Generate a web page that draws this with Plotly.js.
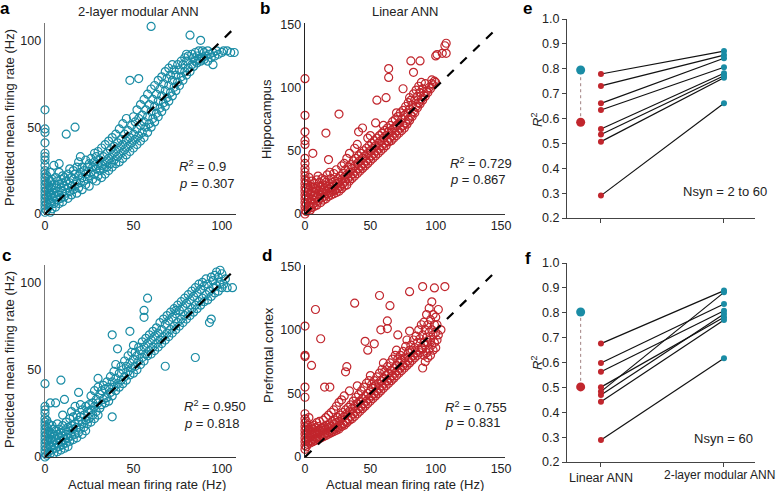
<!DOCTYPE html>
<html>
<head>
<meta charset="utf-8">
<script src="https://cdn.plot.ly/plotly-3.0.1.min.js"></script>
<style>
  html, body { margin: 0; padding: 0; background: #fff; }
  #chart { width: 778px; height: 491px; }
</style>
</head>
<body>
<div id="chart"></div>
<script>
// ---- panel a: 2-layer modular ANN, hippocampus (actual vs predicted) ----
const aPts = [
  [0,1],[0,3],[0,5],[0,7],[0,9],[0,11],[0,13],[0,15],[0,17],[0,19],[0,21],[0,23],[0,25],[0,28],[0,31],[0,33],[0,35],[0,41],[0,47],[0,49],[0,60],
  [1,2],[1,6],[1,10],[1,14],[1,18],[1,22],[2,4],[2,8],[2,12],[2,16],[2,20],[3,1],[3,6],[3,11],[3,15],[3,19],[3,24],
  [4,3],[4,9],[4,14],[4,20],[5,6],[5,12],[5,17],[5,28],[6,4],[6,10],[6,15],[6,21],[7,8],[7,13],[7,19],[8,6],[8,11],[8,17],[8,24],[8,29],[9,9],[9,15],[9,20],[10,7],[10,13],[10,18],[10,22],
  [11,10],[11,16],[11,21],[12,12],[12,19],[12,46],[13,9],[13,15],[13,23],[14,13],[14,18],[14,26],[15,11],[15,16],[15,21],[16,14],[16,20],[16,25],[17,17],[17,23],[17,50],[18,12],[18,19],[18,27],[19,15],[19,22],[19,30],[20,18],[20,24],[20,33],
  [21,14],[21,21],[21,27],[22,19],[22,25],[23,17],[23,23],[23,31],[24,20],[24,27],[25,16],[25,22],[25,29],[26,24],[26,32],[27,20],[27,27],[28,23],[28,30],[28,35],[29,19],[29,26],[29,33],[30,22],[30,28],[30,36],
  [31,25],[31,31],[32,21],[32,28],[32,38],[33,26],[33,33],[34,23],[34,30],[34,40],[35,27],[35,35],[36,25],[36,32],[36,42],[37,29],[37,37],[38,27],[38,34],[38,44],[39,31],[39,39],[40,29],[40,36],[40,46],
  [41,33],[41,41],[42,30],[42,38],[42,49],[43,35],[43,43],[44,32],[44,40],[44,52],[45,37],[45,46],[46,34],[46,42],[46,55],[47,39],[47,48],[48,36],[48,44],[48,77],[49,41],[49,51],[50,38],[50,46],[50,56],
  [51,43],[51,53],[52,40],[52,49],[52,60],[53,45],[53,55],[53,78],[54,42],[54,51],[54,63],[55,47],[55,57],[56,44],[56,53],[56,66],[57,50],[57,60],[58,47],[58,56],[58,69],[59,52],[59,63],[60,50],[60,59],[60,72],[60,108],
  [61,55],[61,66],[62,53],[62,62],[62,74],[63,58],[63,69],[64,56],[64,65],[64,77],[65,61],[65,72],[66,59],[66,68],[66,79],[67,64],[67,75],[68,62],[68,71],[68,82],[69,67],[69,78],[70,65],[70,74],[70,84],
  [71,70],[71,80],[72,68],[72,77],[72,86],[73,73],[73,83],[74,71],[74,80],[75,76],[75,86],[76,74],[76,83],[77,79],[77,88],[78,77],[78,86],[79,82],[79,90],[80,80],[80,88],[80,92],
  [81,84],[81,91],[82,82],[82,103],[83,86],[83,92],[84,85],[84,90],[85,88],[85,93],[86,87],[86,91],[87,89],[87,94],[88,88],[88,100],[89,90],[89,94],[90,89],[90,93],
  [91,91],[92,88],[92,94],[93,92],[94,90],[95,93],[95,86],[96,91],[97,94],[98,92],[100,93],[101,94],[103,94],[105,93],[107,93]
];

// ---- panel b: linear ANN, hippocampus ----
const bPts = [
  [0,0],[0,3],[0,6],[0,9],[0,12],[0,15],[0,18],[0,21],[0,24],[0,27],[0,30],[0,33],[0,36],[0,40],[0,44],[0,55],[0,58],[0,65],[0,78],[0,107],
  [1,2],[1,8],[1,14],[1,20],[1,26],[2,4],[2,11],[2,17],[2,23],[3,6],[3,13],[3,19],[3,29],
  [4,3],[4,9],[4,16],[4,22],[5,5],[5,12],[5,18],[5,26],[6,8],[6,14],[6,21],[6,48],[7,6],[7,11],[7,17],[7,24],[8,9],[8,15],[8,20],[9,7],[9,13],[9,19],[9,27],[10,10],[10,16],[10,22],[10,30],
  [11,12],[11,18],[11,25],[12,9],[12,15],[12,21],[13,13],[13,19],[13,28],[14,11],[14,17],[14,23],[15,14],[15,20],[15,27],[16,12],[16,18],[16,25],[16,64],[17,16],[17,22],[17,31],[18,14],[18,20],[18,43],[19,17],[19,24],[19,33],[20,15],[20,21],[20,28],
  [21,18],[21,25],[22,16],[22,22],[22,32],[23,19],[23,26],[24,17],[24,24],[24,35],[25,20],[25,28],[26,18],[26,25],[26,79],[27,22],[27,30],[28,20],[28,27],[28,38],[29,24],[29,32],[30,22],[30,29],[30,40],
  [31,26],[31,35],[32,23],[32,31],[32,44],[33,28],[33,37],[34,26],[34,33],[34,48],[35,30],[35,39],[36,28],[36,36],[37,32],[37,42],[38,30],[38,38],[38,52],[39,34],[39,44],[40,32],[40,40],[40,55],
  [41,36],[41,46],[41,65],[42,34],[42,42],[43,38],[43,48],[44,36],[44,44],[44,68],[45,40],[45,50],[46,38],[46,46],[47,42],[47,52],[48,40],[48,48],[48,60],[49,44],[49,54],[50,42],[50,50],[50,62],
  [51,46],[51,56],[52,44],[52,52],[53,48],[53,58],[54,46],[54,54],[54,72],[55,50],[55,60],[55,90],[56,48],[56,56],[57,52],[57,62],[58,50],[58,58],[59,54],[59,64],[60,52],[60,60],[60,70],
  [61,56],[61,66],[62,54],[62,62],[62,92],[63,58],[63,68],[64,57],[64,65],[64,108],[64,115],[65,60],[65,70],[66,58],[66,66],[67,62],[67,73],[68,60],[68,68],[69,64],[69,75],[70,62],[70,70],[70,80],
  [71,66],[71,77],[72,64],[72,72],[73,68],[73,80],[74,66],[74,75],[75,70],[75,82],[75,99],[76,68],[76,78],[77,72],[77,85],[78,71],[78,80],[79,75],[79,88],[80,74],[80,83],[80,92],
  [81,78],[81,90],[81,121],[82,77],[82,86],[83,81],[83,95],[83,112],[84,80],[84,90],[85,85],[85,98],[86,84],[86,93],[87,88],[87,101],[88,87],[88,96],[88,121],[89,91],[89,104],[90,90],[90,99],
  [91,94],[92,93],[92,103],[93,97],[94,96],[95,100],[96,99],[97,103],[97,106],[98,102],[99,105],[100,104],[100,125],[101,126],[105,127],[107,133],[108,135],[108,127]
];

// ---- panel c: 2-layer modular ANN, prefrontal cortex ----
const cPts = [
  [0,0],[0,2],[0,4],[0,6],[0,8],[0,10],[0,12],[0,14],[0,16],[0,18],[0,20],[0,22],[0,25],[0,27],[0,29],[0,42],[1,1],[1,5],[1,9],[1,13],[1,17],[1,21],[2,3],[2,7],[2,11],[2,15],[2,19],[3,2],[3,6],[3,10],[3,14],[3,31],
  [4,4],[4,9],[4,13],[4,18],[5,2],[5,7],[5,12],[5,16],[6,5],[6,10],[6,15],[6,31],[7,3],[7,8],[7,13],[7,19],[8,6],[8,11],[8,16],[9,4],[9,9],[9,14],[9,44],[10,7],[10,12],[10,18],[10,24],
  [11,5],[11,10],[11,15],[11,33],[12,8],[12,13],[12,20],[13,6],[13,11],[13,17],[14,9],[14,15],[14,22],[15,12],[15,18],[15,26],[16,10],[16,16],[16,23],[17,13],[17,19],[17,29],[18,11],[18,17],[18,24],[19,14],[19,21],[19,37],[20,16],[20,23],[20,30],
  [21,13],[21,19],[21,27],[22,17],[22,24],[23,15],[23,21],[23,29],[24,19],[24,26],[25,22],[25,30],[26,20],[26,27],[26,35],[27,24],[27,31],[28,22],[28,29],[28,38],[29,26],[29,33],[30,24],[30,31],[30,40],[30,45],
  [31,28],[31,36],[32,30],[32,38],[33,33],[33,41],[34,31],[34,39],[35,34],[35,43],[36,32],[36,40],[37,37],[37,46],[38,23],[38,35],[38,43],[38,70],[39,40],[39,49],[40,38],[40,45],[40,53],
  [41,42],[41,62],[42,40],[42,48],[43,44],[43,52],[44,42],[44,50],[45,46],[45,55],[46,44],[46,52],[47,49],[47,58],[48,47],[48,54],[48,72],[49,51],[49,60],[50,48],[50,56],[50,64],
  [51,52],[51,60],[52,50],[52,58],[53,55],[53,63],[54,53],[54,61],[55,57],[55,66],[56,55],[56,63],[56,80],[56,84],[57,59],[57,68],[58,58],[58,65],[58,91],[59,61],[59,70],[60,59],[60,67],
  [61,63],[61,72],[62,61],[62,69],[63,65],[63,74],[64,63],[64,71],[65,67],[65,77],[66,65],[66,73],[67,69],[67,79],[68,52],[68,67],[68,76],[69,71],[69,81],[70,69],[70,78],
  [71,73],[71,83],[72,71],[72,80],[73,75],[73,85],[74,73],[74,82],[74,84],[75,77],[75,87],[76,75],[76,84],[77,79],[77,89],[78,77],[78,86],[79,81],[79,91],[80,79],[80,88],
  [81,83],[81,93],[82,81],[82,90],[83,85],[83,95],[84,83],[84,92],[85,57],[85,87],[85,97],[86,85],[86,94],[87,89],[87,99],[88,87],[88,96],[89,91],[89,100],[90,89],[90,98],
  [91,93],[91,102],[92,90],[92,99],[93,77],[93,95],[94,79],[94,92],[94,103],[95,97],[95,101],[96,94],[96,104],[97,98],[97,106],[98,95],[98,103],[99,100],[99,107],[100,97],[100,105],[101,99],[102,102],[103,97],[106,97]
];

// ---- panel d: linear ANN, prefrontal cortex ----
const dPts = [
  [0,6],[0,9],[0,12],[0,15],[0,18],[0,21],[0,24],[0,27],[0,30],[0,34],[0,47],[0,55],[0,79],[0,80],[0,103],[1,8],[1,13],[1,18],[1,23],[1,28],[2,10],[2,15],[2,20],[2,25],[3,12],[3,17],[3,22],[3,31],
  [4,11],[4,16],[4,21],[5,13],[5,18],[5,24],[5,72],[6,12],[6,17],[6,22],[7,14],[7,19],[7,25],[8,13],[8,18],[8,23],[8,116],[9,15],[9,20],[9,27],[10,14],[10,19],[10,24],
  [11,16],[11,21],[11,28],[12,15],[12,20],[12,93],[13,17],[13,23],[14,16],[14,21],[14,29],[15,18],[15,24],[15,55],[16,17],[16,22],[16,31],[17,19],[17,25],[18,18],[18,23],[18,33],[19,20],[19,26],[19,55],[20,19],[20,24],[20,35],
  [21,21],[21,28],[22,20],[22,26],[22,37],[23,22],[23,29],[24,21],[24,27],[24,40],[25,23],[25,31],[26,22],[26,28],[26,43],[27,25],[27,33],[28,24],[28,30],[28,45],[29,26],[29,35],[30,25],[30,32],[30,48],
  [31,28],[31,37],[31,67],[32,27],[32,34],[32,71],[33,30],[33,39],[34,29],[34,36],[34,52],[35,32],[35,41],[36,30],[36,38],[37,34],[37,44],[38,32],[38,40],[38,121],[39,36],[39,47],[40,34],[40,42],[40,56],
  [41,38],[41,49],[42,36],[42,44],[43,40],[43,52],[44,38],[44,46],[45,42],[45,55],[46,40],[46,48],[46,91],[47,44],[47,58],[48,42],[48,50],[48,84],[49,46],[49,60],[50,44],[50,52],[50,64],
  [51,48],[51,57],[52,46],[52,54],[53,50],[53,60],[53,89],[54,48],[54,56],[55,52],[55,63],[56,50],[56,58],[57,54],[57,66],[57,127],[58,52],[58,60],[58,100],[59,56],[59,69],[60,54],[60,62],[60,74],
  [61,58],[61,67],[62,56],[62,64],[63,60],[63,71],[63,101],[63,107],[64,58],[64,66],[65,62],[65,74],[65,119],[66,60],[66,68],[67,64],[67,77],[68,62],[68,70],[69,66],[69,80],[70,64],[70,72],[70,84],
  [71,68],[71,77],[71,96],[72,66],[72,74],[73,70],[73,80],[74,68],[74,76],[75,72],[75,83],[76,70],[76,78],[77,74],[77,87],[78,72],[78,92],[79,76],[79,82],[80,74],[80,84],[80,99],[80,130],
  [81,78],[81,88],[82,76],[82,84],[83,80],[83,92],[84,78],[84,86],[85,82],[85,95],[86,80],[86,90],[87,84],[87,100],[88,82],[88,93],[89,86],[89,104],[90,70],[90,85],[90,96],[90,134],
  [91,80],[91,90],[91,106],[92,75],[92,88],[92,100],[93,82],[93,94],[93,112],[94,78],[94,90],[94,104],[95,85],[95,98],[95,117],[96,80],[96,92],[96,108],[97,88],[97,100],[97,122],[98,84],[98,96],[98,112],
  [99,90],[99,104],[99,133],[100,86],[100,98],[100,110],[101,92],[101,104],[102,96],[102,116],[104,100],[107,134]
];

// ---- panels e, f: R^2 per session, linear vs 2-layer modular ----
const eLinear  = [0.779, 0.731, 0.661, 0.634, 0.558, 0.536, 0.507, 0.290];
const eModular = [0.871, 0.855, 0.842, 0.806, 0.782, 0.772, 0.764, 0.661];
const eMean    = [0.585, 0.795]; // linear, modular
const fLinear  = [0.676, 0.598, 0.563, 0.501, 0.483, 0.469, 0.442, 0.288];
const fModular = [0.889, 0.835, 0.808, 0.782, 0.882, 0.795, 0.771, 0.617];
const fMean    = [0.502, 0.803];
const groupLabels = ['Linear ANN', '2-layer modular ANN'];

const CYAN = '#1a8ca5';
const RED = '#c1262d';
const W = 778, H = 491;
const px = v => v / W;
const py = v => 1 - v / H;
const FONT = 'Liberation Sans, Arial, sans-serif';

function scatterTrace(pts, color, xa, ya) {
  return {
    x: pts.map(p => p[0]), y: pts.map(p => p[1]),
    xaxis: xa, yaxis: ya,
    type: 'scatter', mode: 'markers', cliponaxis: false,
    marker: { symbol: 'circle-open', size: 8, color: color, line: { width: 1.2, color: color } },
    hoverinfo: 'skip'
  };
}

function diag(end, xa, ya) {
  return {
    x: [0, end], y: [0, end], xaxis: xa, yaxis: ya,
    type: 'scatter', mode: 'lines', cliponaxis: false,
    line: { color: '#000', width: 2.2, dash: 'dash' }, hoverinfo: 'skip'
  };
}

function pairTraces(lin, mod, mean, xa, ya) {
  const lx = [], ly = [];
  lin.forEach((v, i) => { lx.push(1, 2, null); ly.push(v, mod[i], null); });
  return [
    { x: [0.835, 0.835], y: mean, xaxis: xa, yaxis: ya, type: 'scatter', mode: 'lines',
      line: { color: '#a08080', width: 1, dash: 'dot' } },
    { x: lx, y: ly, xaxis: xa, yaxis: ya, type: 'scatter', mode: 'lines',
      line: { color: '#111', width: 1.2 } },
    { x: lin.map(() => 1), y: lin, xaxis: xa, yaxis: ya, type: 'scatter', mode: 'markers',
      marker: { color: RED, size: 6 } },
    { x: mod.map(() => 2), y: mod, xaxis: xa, yaxis: ya, type: 'scatter', mode: 'markers',
      marker: { color: CYAN, size: 6 } },
    { x: [0.835], y: [mean[0]], xaxis: xa, yaxis: ya, type: 'scatter', mode: 'markers',
      marker: { color: RED, size: 9 } },
    { x: [0.835], y: [mean[1]], xaxis: xa, yaxis: ya, type: 'scatter', mode: 'markers',
      marker: { color: CYAN, size: 9 } }
  ];
}

const data = [
  scatterTrace(aPts, CYAN, 'x', 'y'), diag(108, 'x', 'y'),
  scatterTrace(bPts, RED, 'x2', 'y2'), diag(145, 'x2', 'y2'),
  ...pairTraces(eLinear, eModular, eMean, 'x3', 'y3'),
  scatterTrace(cPts, CYAN, 'x4', 'y4'), diag(108, 'x4', 'y4'),
  scatterTrace(dPts, RED, 'x5', 'y5'), diag(148, 'x5', 'y5'),
  ...pairTraces(fLinear, fModular, fMean, 'x6', 'y6')
];

function sAxis(domain, range, tickvals, lineColor, anchor) {
  return {
    domain: domain, range: range, tickvals: tickvals, anchor: anchor,
    showgrid: false, zeroline: false,
    showline: true, linecolor: lineColor, linewidth: 1.3, ticks: '',
    tickfont: { size: 12.5, color: '#222' }, fixedrange: true
  };
}

const colA = [px(45), px(236)], colB = [px(305), px(505)], colE = [px(567), px(755)];
const rowTop = [py(214), py(23)], rowBot = [py(457), py(265)];
const eRow = [py(218), py(19)], fRow = [py(462), py(263)];
const rTicks = [0.2, 0.3, 0.4, 0.5, 0.6, 0.7, 0.8, 0.9, 1.0];

function rAxisY(domain, anchor) {
  return {
    domain: domain, range: [0.2, 1.0], tickvals: rTicks, tickformat: '.1f', anchor: anchor,
    showgrid: false, zeroline: false, showline: true, linecolor: '#444', linewidth: 1,
    ticks: 'outside', ticklen: 4, tickcolor: '#444', tickfont: { size: 12.5, color: '#222' }
  };
}
function rAxisX(domain, text, anchor) {
  return {
    domain: domain, range: [0.724, 2.252], tickvals: [1, 2], ticktext: text, anchor: anchor,
    showgrid: false, zeroline: false, showline: true, linecolor: '#444', linewidth: 1,
    ticks: 'outside', ticklen: 4, tickcolor: '#444', tickfont: { size: 12.5, color: '#222' }
  };
}

function note(text, x, y, opts) {
  return Object.assign({
    text: text, x: px(x), y: py(y), xref: 'paper', yref: 'paper',
    showarrow: false, font: { size: 13, color: '#222', family: FONT },
    xanchor: 'left', yanchor: 'middle'
  }, opts || {});
}
function letter(t, x, y) {
  return note('<b>' + t + '</b>', x, y, { xanchor: 'center', font: { size: 17, color: '#000', family: FONT } });
}
function vtitle(t, x, y) {
  return note(t, x, y, { xanchor: 'center', textangle: -90 });
}

const R2 = '<i>R</i><sup>2</sup>';

const layout = {
  width: W, height: H,
  margin: { l: 0, r: 0, t: 0, b: 0 },
  paper_bgcolor: '#fff', plot_bgcolor: 'rgba(0,0,0,0)',
  showlegend: false,
  font: { family: FONT, size: 13, color: '#222' },
  xaxis:  sAxis(colA, [0, 108], [0, 50, 100], '#333', 'y'),
  yaxis:  sAxis(rowTop, [0, 110], [0, 50, 100], '#777', 'x'),
  xaxis2: sAxis(colB, [0, 153], [0, 50, 100, 150], '#333', 'y2'),
  yaxis2: sAxis(rowTop, [0, 151], [0, 50, 100, 150], '#222', 'x2'),
  xaxis3: rAxisX(colE, ['', ''], 'y3'),
  yaxis3: rAxisY(eRow, 'x3'),
  xaxis4: sAxis(colA, [0, 108], [0, 50, 100], '#333', 'y4'),
  yaxis4: sAxis(rowBot, [0, 110], [0, 50, 100], '#777', 'x4'),
  xaxis5: sAxis(colB, [0, 153], [0, 50, 100, 150], '#333', 'y5'),
  yaxis5: sAxis(rowBot, [0, 151], [0, 50, 100, 150], '#222', 'x5'),
  // right-hand group label is written as an annotation so it can sit flush with the edge
  xaxis6: rAxisX(colE, [groupLabels[0], ''], 'y6'),
  yaxis6: rAxisY(fRow, 'x6'),
  annotations: [
    letter('a', 5, 8), letter('b', 265, 8), letter('e', 527, 8),
    letter('c', 6, 255), letter('d', 267, 255), letter('f', 528, 258),
    note('2-layer modular ANN', 138, 12, { xanchor: 'center' }),
    note('Linear ANN', 405, 12, { xanchor: 'center' }),
    vtitle('Predicted mean firing rate (Hz)', 9, 118),
    vtitle('Predicted mean firing rate (Hz)', 9, 360),
    vtitle('Hippocampus', 267, 119),
    vtitle('Prefrontal cortex', 268, 355),
    vtitle(R2, 537, 120),
    vtitle(R2, 537, 363),
    note('Actual mean firing rate (Hz)', 147, 484, { xanchor: 'center' }),
    note('Actual mean firing rate (Hz)', 405, 484, { xanchor: 'center' }),
    note(groupLabels[1], 777, 475, { xanchor: 'right', font: { size: 12, color: '#222', family: FONT } }),
    note(R2 + ' = 0.9', 177, 166), note('<i>p</i> = 0.307', 177, 183),
    note(R2 + ' = 0.729', 448, 163), note('<i>p</i> = 0.867', 448, 179),
    note(R2 + ' = 0.950', 182, 406), note('<i>p</i> = 0.818', 182, 423),
    note(R2 + ' = 0.755', 443, 407), note('<i>p</i> = 0.831', 443, 422),
    note('Nsyn = 2 to 60', 681, 191),
    note('Nsyn = 60', 692, 438)
  ]
};

Plotly.newPlot('chart', data, layout, { displayModeBar: false, staticPlot: true });
</script>
</body>
</html>
